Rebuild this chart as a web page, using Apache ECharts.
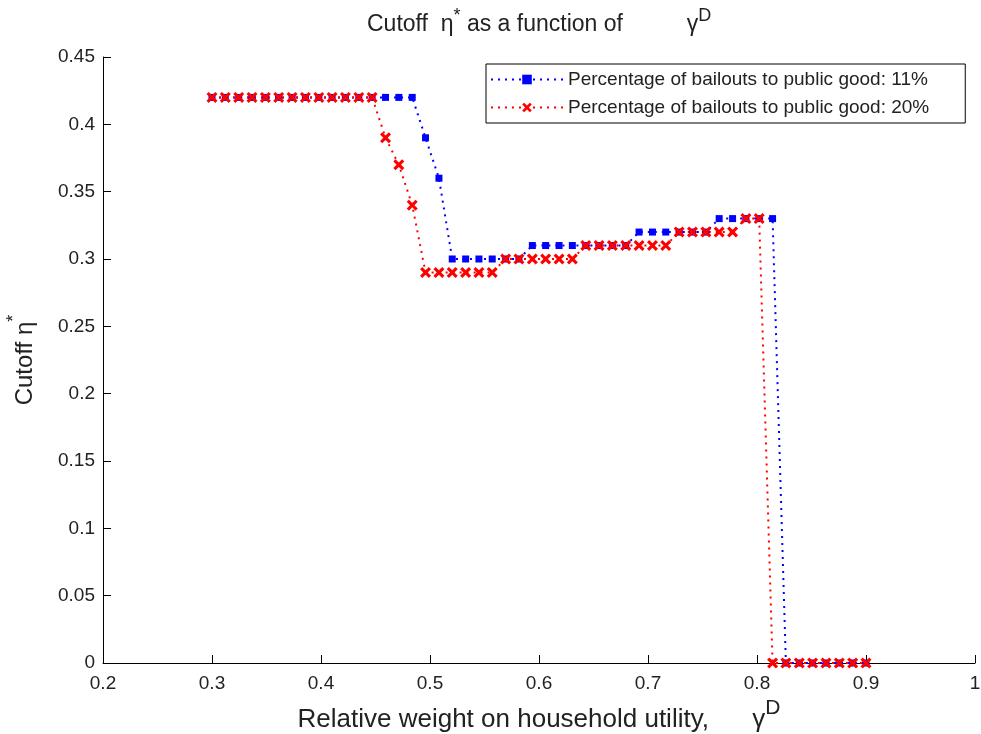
<!DOCTYPE html>
<html lang="en" style="height: 100%">

<head>
    <meta charset="utf-8" />
    <script src="https://cdn.jsdelivr.net/npm/echarts@6.0.0/dist/echarts.min.js"></script>
</head>

<body style="height: 100%; margin: 0; background: #fff">
    <div id="container" style="width: 981px;height: 734px;"></div>
    <script type="text/javascript">
        // gamma^D grid (50 points between 0.3 and 0.9)
        var gammaD = [0.3, 0.3122, 0.3245, 0.3367, 0.349, 0.3612, 0.3735, 0.3857, 0.398, 0.4102,
            0.4224, 0.4347, 0.4469, 0.4592, 0.4714, 0.4837, 0.4959, 0.5082, 0.5204, 0.5327,
            0.5449, 0.5571, 0.5694, 0.5816, 0.5939, 0.6061, 0.6184, 0.6306, 0.6429, 0.6551,
            0.6673, 0.6796, 0.6918, 0.7041, 0.7163, 0.7286, 0.7408, 0.7531, 0.7653, 0.7776,
            0.7898, 0.802, 0.8143, 0.8265, 0.8388, 0.851, 0.8633, 0.8755, 0.8878, 0.9];

        // cutoff eta*, 11% of bailouts to public good
        var cutoff11 = [0.42, 0.42, 0.42, 0.42, 0.42, 0.42, 0.42, 0.42, 0.42, 0.42,
            0.42, 0.42, 0.42, 0.42, 0.42, 0.42, 0.39, 0.36, 0.30, 0.30,
            0.30, 0.30, 0.30, 0.30, 0.31, 0.31, 0.31, 0.31, 0.31, 0.31,
            0.31, 0.31, 0.32, 0.32, 0.32, 0.32, 0.32, 0.32, 0.33, 0.33,
            0.33, 0.33, 0.33, 0, 0, 0, 0, 0, 0, 0];

        // cutoff eta*, 20% of bailouts to public good
        var cutoff20 = [0.42, 0.42, 0.42, 0.42, 0.42, 0.42, 0.42, 0.42, 0.42, 0.42,
            0.42, 0.42, 0.42, 0.39, 0.37, 0.34, 0.29, 0.29, 0.29, 0.29,
            0.29, 0.29, 0.30, 0.30, 0.30, 0.30, 0.30, 0.30, 0.31, 0.31,
            0.31, 0.31, 0.31, 0.31, 0.31, 0.32, 0.32, 0.32, 0.32, 0.32,
            0.33, 0.33, 0, 0, 0, 0, 0, 0, 0, 0];

        var seriesNames = ['Percentage of bailouts to public good: 11%',
            'Percentage of bailouts to public good: 20%'];

        var xTicks = [0.2, 1, 0.1];      // min, max, interval
        var yTicks = [0, 0.45, 0.05];

        function pairs(xs, ys) {
            return xs.map(function (x, i) { return [x, ys[i]]; });
        }

        var font = "'Liberation Sans', Arial, sans-serif";
        var textColor = '#222';
        var crossPath = 'path://M0,2 L2,0 L5,3 L8,0 L10,2 L7,5 L10,8 L8,10 L5,7 L2,10 L0,8 L3,5 Z';

        var dom = document.getElementById('container');
        var myChart = echarts.init(dom, null, {
            renderer: 'canvas'
        });

        var option = {
            backgroundColor: '#fff',
            animation: false,
            textStyle: { fontFamily: font },
            title: {
                text: '{t|Cutoff  η}{s|*}{t| as a function of          γ}{s|D}',
                left: 362,
                top: 7,
                textStyle: {
                    rich: {
                        t: { fontSize: 23, fontWeight: 'normal', fontFamily: font, color: textColor, lineHeight: 25 },
                        s: { fontSize: 18, fontWeight: 'normal', fontFamily: font, color: textColor, lineHeight: 18, padding: [0, 0, 16, 0] }
                    }
                }
            },
            legend: {
                orient: 'vertical',
                left: 486,
                top: 64,
                backgroundColor: '#fff',
                borderColor: '#000',
                borderWidth: 1,
                borderRadius: 0,
                padding: [6, 36, 6, 4],
                itemGap: 9,
                itemWidth: 72,
                itemHeight: 12,
                textStyle: { fontSize: 19, color: textColor, fontFamily: font },
                data: seriesNames
            },
            grid: {
                left: 103,
                right: 6,
                top: 57,
                bottom: 71,
                outerBoundsMode: 'none',
                containLabel: false
            },
            xAxis: {
                type: 'value',
                min: xTicks[0],
                max: xTicks[1],
                interval: xTicks[2],
                splitLine: { show: false },
                axisLine: { lineStyle: { color: '#000', width: 1 } },
                axisTick: { inside: true, length: 8, lineStyle: { color: '#000' } },
                axisLabel: { fontSize: 19, color: textColor, margin: 11, fontFamily: font },
                name: '{t|Relative weight on household utility,      γ}{s|D}',
                nameLocation: 'middle',
                nameGap: 36,
                nameTextStyle: {
                    rich: {
                        t: { fontSize: 26, fontFamily: font, color: textColor, lineHeight: 28 },
                        s: { fontSize: 21, fontFamily: font, color: textColor, lineHeight: 21, padding: [0, 0, 22, 0] }
                    }
                }
            },
            yAxis: {
                type: 'value',
                min: yTicks[0],
                max: yTicks[1],
                interval: yTicks[2],
                splitLine: { show: false },
                axisLine: { show: true, lineStyle: { color: '#000', width: 1 } },
                axisTick: { show: true, inside: true, length: 8, lineStyle: { color: '#000' } },
                axisLabel: { fontSize: 19, color: textColor, margin: 8, fontFamily: font },
                name: '{t|Cutoff η}{s|*}',
                nameLocation: 'middle',
                nameRotate: 90,
                nameGap: 64,
                nameTextStyle: {
                    rich: {
                        t: { fontSize: 24, fontFamily: font, color: textColor, lineHeight: 28 },
                        s: { fontSize: 18, fontFamily: font, color: textColor, lineHeight: 18, padding: [0, 0, 22, 0] }
                    }
                }
            },
            series: [{
                    name: seriesNames[0],
                    type: 'line',
                    color: '#0000ff',
                    symbol: 'rect',
                    symbolSize: 7,
                    showAllSymbol: true,
                    lineStyle: { color: '#0000ff', width: 2, type: [2, 5] },
                    itemStyle: { color: '#0000ff' },
                    data: pairs(gammaD, cutoff11)
                },
                {
                    name: seriesNames[1],
                    type: 'line',
                    color: '#ff0000',
                    symbol: crossPath,
                    symbolSize: 11,
                    showAllSymbol: true,
                    lineStyle: { color: '#ff0000', width: 2, type: [2, 5] },
                    itemStyle: { color: '#ff0000' },
                    data: pairs(gammaD, cutoff20)
                }
            ]
        };

        if (option && typeof option === 'object') {
            myChart.setOption(option);
        }

        window.addEventListener('resize', myChart.resize);
    </script>
</body>

</html>
